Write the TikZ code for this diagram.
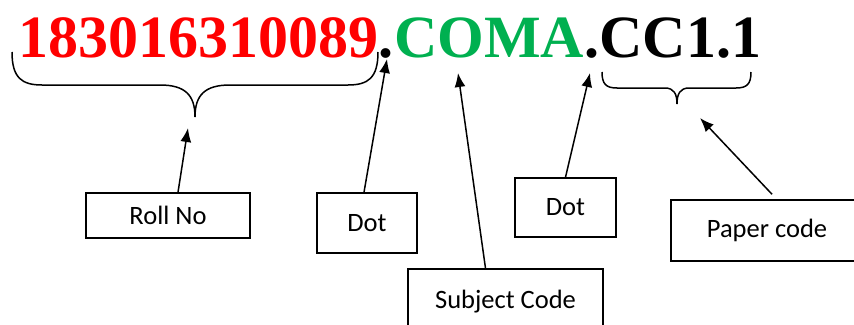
\documentclass[tikz,border=0pt]{standalone}
\usepackage{fontspec}
\setmainfont{Liberation Serif}
\setsansfont{Carlito}
\usetikzlibrary{arrows.meta}
\definecolor{rollred}{HTML}{FF0000}
\definecolor{subjgreen}{HTML}{00B050}
\tikzset{
  codepart/.style={anchor=base west,inner sep=0pt,font=\rmfamily\bfseries\fontsize{60}{60}\selectfont},
  labelbox/.style={draw,line width=1.5pt,inner sep=0pt,font=\sffamily\fontsize{26.5}{30}\selectfont},
  ptr/.style={-{Latex[length=14pt,width=11pt]},line width=1.5pt},
  brc/.style={line width=1.5pt}
}
\begin{document}
\begin{tikzpicture}[x=1pt,y=-1pt]
	\useasboundingbox (0,0) rectangle (854,324);
	%CODE
	\node[codepart,text=rollred] (rollcode) at (18,57) {183016310089};
	\node[codepart] (dotcode) at (rollcode.base east) {.};
	\node[codepart,text=subjgreen] (subjcode) at (dotcode.base east) {COMA};
	\node[codepart] (papercode) at (subjcode.base east) {.CC1.1};
	%BRACES
	\draw[brc] (12,52) .. controls (12,78) and (22,85) .. (42,85) -- (160,85)
		.. controls (185,85) and (195,95) .. (195,117)
		.. controls (195,95) and (205,85) .. (230,85) -- (348,85)
		.. controls (368,85) and (378,78) .. (378,52);
	\draw[brc] (602,72) .. controls (602,84) and (606,88) .. (617,88) -- (665,88)
		.. controls (674,88) and (677,94) .. (677,104)
		.. controls (677,94) and (680,88) .. (689,88) -- (736,88)
		.. controls (747,88) and (751,84) .. (751,72);
	%TIPS
	\coordinate (rolltip) at (188,128);
	\coordinate (dottip) at (387,59);
	\coordinate (subjtip) at (458,73);
	\coordinate (dottip2) at (590,73);
	\coordinate (papertip) at (700,118);
	%BOXES
	\node[labelbox,minimum width=164pt,minimum height=45pt] (roll) at (168,215.5) {Roll No};
	\node[labelbox,minimum width=100pt,minimum height=60pt] (dot) at (367,223) {Dot};
	\node[labelbox,minimum width=195pt,minimum height=66pt] (subj) at (505.5,302) {Subject Code};
	\node[labelbox,minimum width=101pt,minimum height=59pt] (dot2) at (565.5,207.5) {Dot};
	\node[labelbox,minimum width=192pt,minimum height=61pt] (paper) at (767,230.5) {Paper code};
	%ARROWS
	\draw[ptr] ([xshift=10pt]roll.north) -- (rolltip);
	\draw[ptr] ([xshift=-3pt]dot.north) -- (dottip);
	\draw[ptr] ([xshift=-20pt]subj.north) -- (subjtip);
	\draw[ptr] (dot2.north) -- (dottip2);
	\draw[ptr] ([xshift=5pt,yshift=5pt]paper.north) -- (papertip);
\end{tikzpicture}
\end{document}
